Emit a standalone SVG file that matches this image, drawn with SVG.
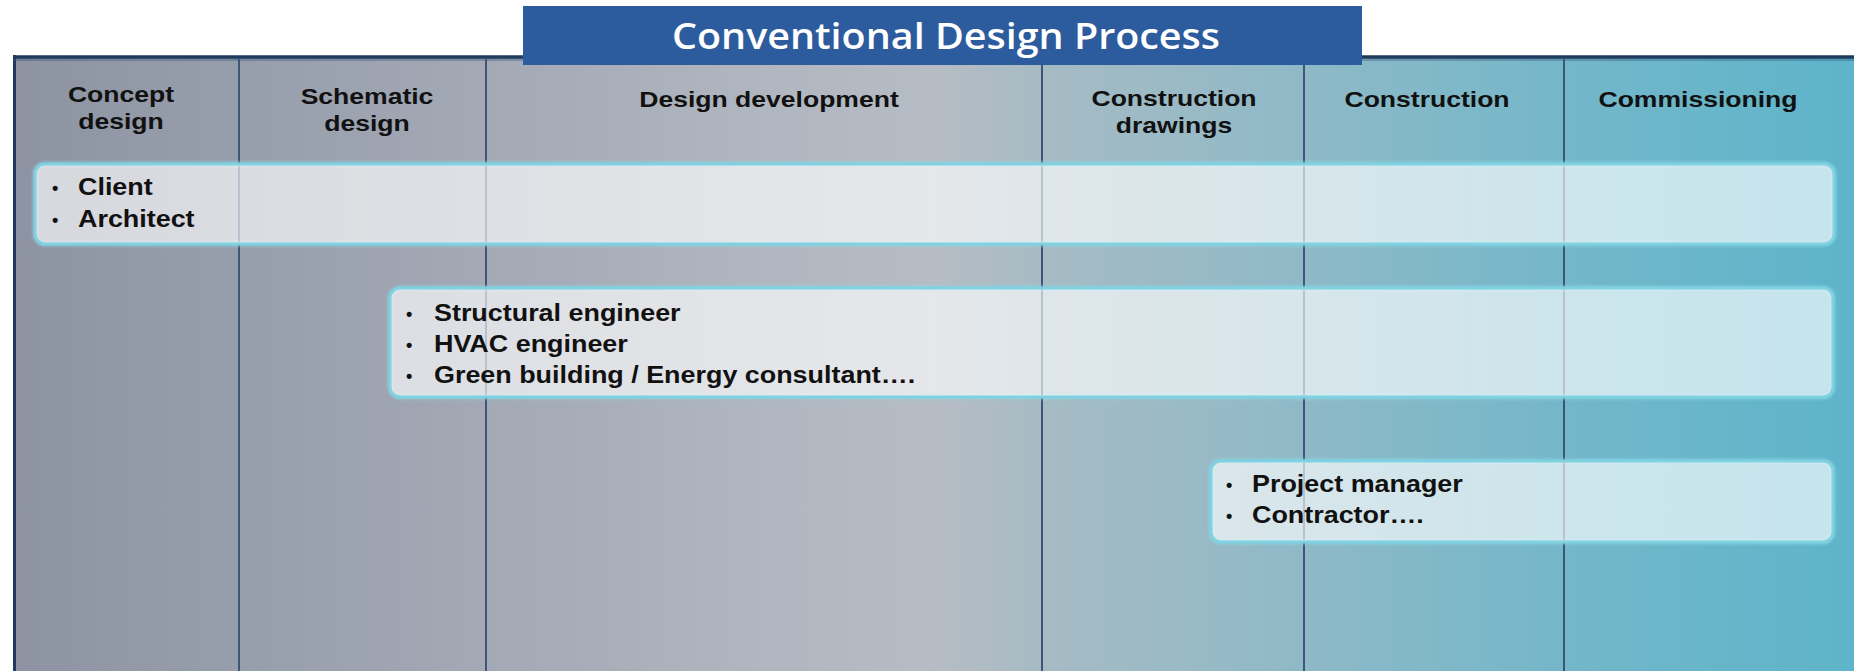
<svg xmlns="http://www.w3.org/2000/svg" width="1854" height="671" viewBox="0 0 1854 671">
  <style>
    .hdr { font-family: "Liberation Sans", Arial, sans-serif; font-weight: bold; font-size: 22.5px; fill: #111; text-anchor: middle; }
    .item { font-family: "Liberation Sans", Arial, sans-serif; font-weight: bold; font-size: 23px; fill: #111; }
    .bul { font-family: "Liberation Sans", Arial, sans-serif; font-weight: bold; font-size: 18px; fill: #111; }
    .title { font-family: "Open Sans", "Liberation Sans", sans-serif; font-weight: 600; font-size: 36px; fill: #ffffff; text-anchor: middle; }
    .div { stroke: #3d5578; stroke-width: 2; }
    .box { fill: #ffffff; fill-opacity: 0.64; stroke: #7fd2e2; stroke-width: 3; }
    .glow { fill: none; stroke: #8fdbe9; stroke-width: 7; stroke-opacity: 0.3; }
  </style>
  <defs>
    <linearGradient id="bg" x1="14" y1="0" x2="1854" y2="0" gradientUnits="userSpaceOnUse">
      <stop offset="0" stop-color="#8d93a2"/>
      <stop offset="0.13" stop-color="#989fac"/>
      <stop offset="0.26" stop-color="#a3a9b5"/>
      <stop offset="0.40" stop-color="#b0b6bf"/>
      <stop offset="0.50" stop-color="#b6bcc4"/>
      <stop offset="0.56" stop-color="#a6bbc4"/>
      <stop offset="0.70" stop-color="#8fb9c7"/>
      <stop offset="0.84" stop-color="#74b7c9"/>
      <stop offset="1" stop-color="#5eb4ca"/>
    </linearGradient>
  </defs>

  <rect x="0" y="0" width="1854" height="671" fill="#ffffff"/>

  <g id="frame">
    <rect x="14" y="57" width="1840" height="614" fill="url(#bg)"/>
    <line x1="14.5" y1="55" x2="14.5" y2="671" stroke="#1e3a5c" stroke-width="3"/>
    <line x1="13" y1="57" x2="1854" y2="57" stroke="#1e3a5c" stroke-width="3.5"/>
    <line x1="13" y1="60" x2="1854" y2="60" stroke="#3c587c" stroke-width="1.5" stroke-opacity="0.5"/>
  </g>

  <g id="dividers">
    <line class="div" x1="239" y1="58" x2="239" y2="671"/>
    <line class="div" x1="486" y1="58" x2="486" y2="671"/>
    <line class="div" x1="1042" y1="58" x2="1042" y2="671"/>
    <line class="div" x1="1304" y1="58" x2="1304" y2="671"/>
    <line class="div" x1="1564" y1="58" x2="1564" y2="671"/>
  </g>

  <g id="title">
    <rect x="523" y="6" width="839" height="59" fill="#2d5c9e"/>
    <text class="title" x="946" y="49" textLength="548" lengthAdjust="spacingAndGlyphs">Conventional Design Process</text>
  </g>

  <g id="header-concept">
    <text class="hdr" transform="translate(121,102) scale(1.18,1)">Concept</text>
    <text class="hdr" transform="translate(121,129) scale(1.18,1)">design</text>
  </g>
  <g id="header-schematic">
    <text class="hdr" transform="translate(367,104) scale(1.18,1)">Schematic</text>
    <text class="hdr" transform="translate(367,131) scale(1.18,1)">design</text>
  </g>
  <g id="header-development">
    <text class="hdr" transform="translate(769,107) scale(1.18,1)">Design development</text>
  </g>
  <g id="header-drawings">
    <text class="hdr" transform="translate(1174,106) scale(1.18,1)">Construction</text>
    <text class="hdr" transform="translate(1174,133) scale(1.18,1)">drawings</text>
  </g>
  <g id="header-construction">
    <text class="hdr" transform="translate(1427,107) scale(1.18,1)">Construction</text>
  </g>
  <g id="header-commissioning">
    <text class="hdr" transform="translate(1698,107) scale(1.18,1)">Commissioning</text>
  </g>

  <g id="box-client">
    <rect class="glow" x="35" y="164" width="1799" height="80" rx="10"/>
    <rect class="box" x="35" y="164" width="1799" height="80" rx="10"/>
    <text class="bul" x="52" y="194">•</text>
    <text class="item" transform="translate(78,195) scale(1.17,1)">Client</text>
    <text class="bul" x="52" y="226">•</text>
    <text class="item" transform="translate(78,227) scale(1.17,1)">Architect</text>
  </g>

  <g id="box-engineers">
    <rect class="glow" x="390" y="288" width="1443" height="109" rx="10"/>
    <rect class="box" x="390" y="288" width="1443" height="109" rx="10"/>
    <text class="bul" x="406" y="320">•</text>
    <text class="item" transform="translate(434,321) scale(1.17,1)">Structural engineer</text>
    <text class="bul" x="406" y="351">•</text>
    <text class="item" transform="translate(434,352) scale(1.17,1)">HVAC engineer</text>
    <text class="bul" x="406" y="382">•</text>
    <text class="item" transform="translate(434,383) scale(1.17,1)">Green building / Energy consultant….</text>
  </g>

  <g id="box-contractors">
    <rect class="glow" x="1211" y="461" width="622" height="81" rx="10"/>
    <rect class="box" x="1211" y="461" width="622" height="81" rx="10"/>
    <text class="bul" x="1226" y="491">•</text>
    <text class="item" transform="translate(1252,492) scale(1.17,1)">Project manager</text>
    <text class="bul" x="1226" y="522">•</text>
    <text class="item" transform="translate(1252,523) scale(1.17,1)">Contractor….</text>
  </g>
</svg>
